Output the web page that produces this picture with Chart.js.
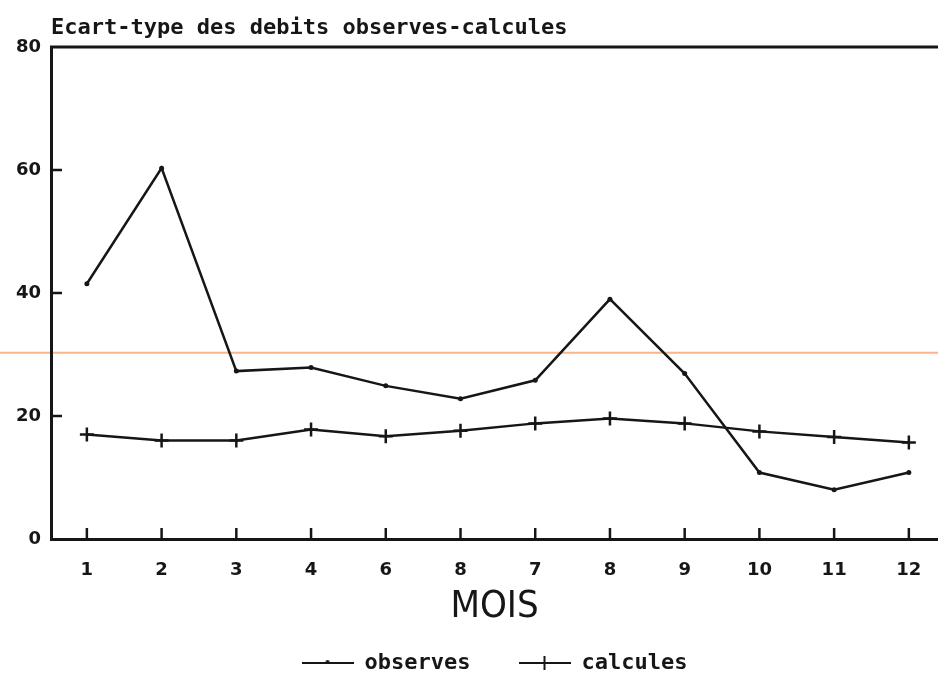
<!DOCTYPE html>
<html>
<head>
<meta charset="utf-8">
<script src="https://cdn.jsdelivr.net/npm/chart.js@4"></script>
<style>
  html, body { margin: 0; padding: 0; background: #fff; }
  #wrap { width: 938px; height: 679px; position: relative; }
</style>
</head>
<body>
<div id="wrap"><canvas id="myChart"></canvas></div>
<script>
// months on the x axis
const months = [1, 2, 3, 4, 5, 6, 7, 8, 9, 10, 11, 12];
const monthLabels = ['1', '2', '3', '4', '6', '8', '7', '8', '9', '10', '11', '12'];
// ecart-type
const observes = [41.5, 60.3, 27.3, 27.9, 24.9, 22.8, 25.8, 39.0, 26.9, 10.8, 8.0, 10.8];
const calcules = [17.0, 16.0, 16.0, 17.8, 16.7, 17.6, 18.8, 19.6, 18.8, 17.5, 16.6, 15.7];
const yTicks = [0, 20, 40, 60, 80];
// the orange streak of the scan
const scanLine = 30.3;

const ink = '#161616';
const pixFont = 'DejaVu Sans Mono';

function makeIcon(type){
	var c = document.createElement('canvas');
	c.width = 52; c.height = 16;
	var g = c.getContext('2d');
	g.strokeStyle = ink;
	g.lineWidth = 2;
	g.beginPath();
	g.moveTo(0, 8); g.lineTo(52, 8);
	g.stroke();
	if (type == 'cross') {
		g.beginPath();
		g.moveTo(26, 1); g.lineTo(26, 15);
		g.stroke();
	} else {
		g.fillStyle = ink;
		g.beginPath();
		g.arc(26, 7, 2, 0, Math.PI * 2);
		g.fill();
	}
	return c;
}
const legendIcons = [makeIcon('dot'), makeIcon('cross')];

const frame = {
	id: 'frame',
	beforeDraw(chart){
		const ctx = chart.ctx;
		const y = chart.scales.y.getPixelForValue(scanLine);
		ctx.save();
		ctx.strokeStyle = '#f8b58c';
		ctx.lineWidth = 2;
		ctx.beginPath();
		ctx.moveTo(0, y); ctx.lineTo(chart.width, y);
		ctx.stroke();
		ctx.restore();
	},
	afterDraw(chart){
		const ctx = chart.ctx;
		const a = chart.chartArea;
		const xs = chart.scales.x, ys = chart.scales.y;
		ctx.save();
		ctx.strokeStyle = ink;
		ctx.lineWidth = 3;
		ctx.beginPath();
		ctx.moveTo(a.left - 1, a.top); ctx.lineTo(a.right, a.top);
		ctx.stroke();
		ctx.lineWidth = 2.5;
		for (let i = 0; i < months.length; i++) {
			const x = xs.getPixelForValue(months[i]);
			ctx.beginPath();
			ctx.moveTo(x, a.bottom); ctx.lineTo(x, a.bottom - 11);
			ctx.stroke();
		}
		for (let i = 1; i < yTicks.length - 1; i++) {
			const y = ys.getPixelForValue(yTicks[i]);
			ctx.beginPath();
			ctx.moveTo(a.left, y); ctx.lineTo(a.left + 11, y);
			ctx.stroke();
		}
		ctx.restore();
	}
};

const ctx = document.getElementById('myChart').getContext('2d');
const myChart = new Chart(ctx, {
	type: 'line',
	data: {
		datasets: [{
			label: 'observes',
			data: months.map((m, i) => ({x: m, y: observes[i]})),
			borderColor: ink,
			backgroundColor: ink,
			borderWidth: 2.5,
			pointStyle: 'circle',
			pointRadius: 2.5,
			pointBorderWidth: 0,
			tension: 0
		}, {
			label: 'calcules',
			data: months.map((m, i) => ({x: m, y: calcules[i]})),
			borderColor: ink,
			backgroundColor: ink,
			borderWidth: 2.5,
			pointStyle: 'cross',
			pointRadius: 7,
			pointBorderWidth: 2.5,
			tension: 0
		}]
	},
	options: {
		responsive: true,
		maintainAspectRatio: false,
		animation: false,
		layout: { padding: 0, autoPadding: false },
		plugins: {
			tooltip: { enabled: false },
			title: {
				display: true,
				text: 'Ecart-type des debits observes-calcules',
				align: 'start',
				fullSize: false,
				color: ink,
				font: { family: pixFont, size: 22, weight: 'bold' },
				padding: { top: 15, bottom: 5.6 }
			},
			legend: {
				position: 'bottom',
				fullSize: false,
				maxHeight: 75,
				labels: {
					usePointStyle: true,
					pointStyleWidth: 52,
					padding: 48,
					color: ink,
					font: { family: pixFont, size: 22, weight: 'bold' },
					generateLabels: chart => chart.data.datasets.map((ds, i) => ({
						text: ds.label,
						pointStyle: legendIcons[i],
						datasetIndex: i,
						hidden: false,
						lineWidth: 0,
						strokeStyle: 'transparent',
						fillStyle: 'transparent',
						fontColor: ink
					}))
				}
			}
		},
		scales: {
			x: {
				type: 'linear',
				min: 0.52,
				max: 12.39,
				afterBuildTicks: s => { s.ticks = months.map(v => ({value: v})); },
				afterFit: s => { s.height = 65; s.paddingLeft = 0; s.paddingRight = 0; },
				grid: { display: false, drawTicks: false },
				border: { display: true, color: ink, width: 3 },
				ticks: {
					padding: 21,
					color: ink,
					font: { family: 'DejaVu Sans', size: 18, weight: 'bold' },
					callback: (v) => monthLabels[months.indexOf(v)] || ''
				},
				title: {
					display: true,
					text: 'MOIS',
					color: ink,
					font: { family: "'DejaVu Sans Condensed', 'Liberation Sans', sans-serif", size: 38, weight: 300, lineHeight: 1 },
					padding: { top: 0, bottom: -22 }
				}
			},
			y: {
				min: 0,
				max: 80,
				afterBuildTicks: s => { s.ticks = yTicks.map(v => ({value: v})); },
				afterFit: s => { s.width = 51; },
				grid: { display: false, drawTicks: false },
				border: { display: true, color: ink, width: 3 },
				ticks: {
					padding: 10,
					color: ink,
					font: { family: 'DejaVu Sans', size: 18, weight: 'bold' }
				}
			}
		}
	},
	plugins: [frame]
});
</script>
</body>
</html>
